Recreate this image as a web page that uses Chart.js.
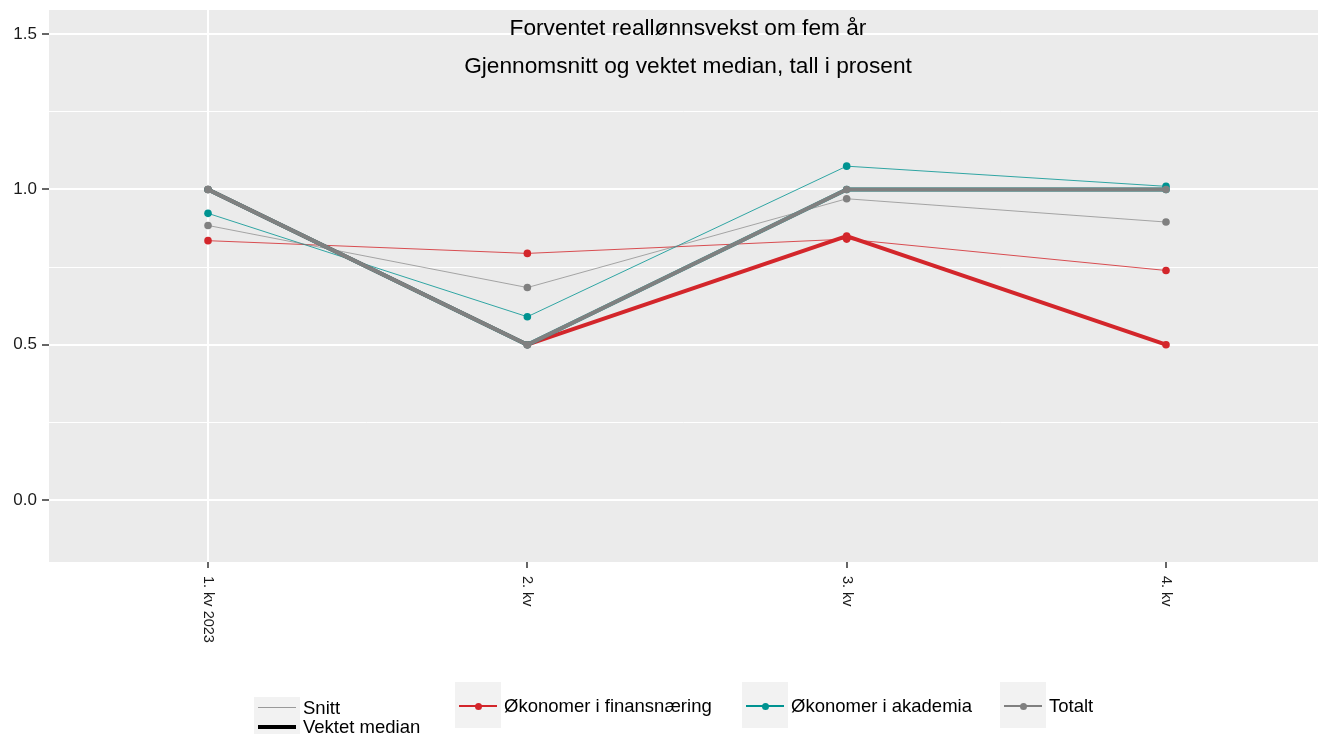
<!DOCTYPE html>
<html>
<head>
<meta charset="utf-8">
<script src="https://cdn.jsdelivr.net/npm/chart.js@4.4.1/dist/chart.umd.min.js"></script>
<style>
body { margin: 0; background: #fff; font-family: "Liberation Sans", Arial, sans-serif; }
#wrap { position: relative; width: 1318px; height: 734px; overflow: hidden; }
.key { position: absolute; background: #f2f2f2; }
.bar { position: absolute; }
.dot { position: absolute; width: 7px; height: 7px; border-radius: 50%; }
.lbl { position: absolute; font-size: 18.5px; line-height: 20px; color: #000; white-space: nowrap; }
</style>
</head>
<body>
<div id="wrap">
  <canvas id="chart" width="1318" height="734"></canvas>
  <div id="legend"></div>
</div>
<script>
// categories and values
const categories = ['1. kv 2023', '2. kv', '3. kv', '4. kv'];
const finansSnitt = [0.835, 0.794, 0.84, 0.739];
const finansMedian = [1.0, 0.5, 0.85, 0.5];
const akademiaSnitt = [0.923, 0.59, 1.075, 1.01];
const akademiaMedian = [1.0, 0.5, 1.0, 1.0];
const totaltSnitt = [0.884, 0.684, 0.97, 0.895];
const totaltMedian = [1.0, 0.5, 1.0, 1.0];
const yTicks = [0, 0.25, 0.5, 0.75, 1.0, 1.25, 1.5];
const titleLines = ['Forventet reallønnsvekst om fem år', 'Gjennomsnitt og vektet median, tall i prosent'];

const RED = '#d3262b';
const TEAL = '#009391';
const GREY = '#808080';
const FONT = '"Liberation Sans", Arial, sans-serif';

const isMajor = v => Math.abs(v * 2 - Math.round(v * 2)) < 1e-6;
const pts = arr => arr.map((v, i) => ({ x: i, y: v }));

function series(values, color, width, order, alpha) {
    return {
        data: pts(values),
        borderColor: alpha ? color + alpha : color,
        borderWidth: width,
        pointRadius: 3.8,
        pointBorderWidth: 0,
        pointBackgroundColor: color,
        pointHoverRadius: 3.8,
        tension: 0,
        order: order
    };
}

const panelBg = {
    id: 'panelBg',
    beforeDraw(chart) {
        const a = chart.chartArea, c = chart.ctx;
        c.save();
        c.fillStyle = '#ebebeb';
        c.fillRect(a.left, a.top, a.right - a.left, a.bottom - a.top);
        c.restore();
    }
};

const texts = {
    id: 'texts',
    afterDraw(chart) {
        const c = chart.ctx, xs = chart.scales.x;
        c.save();
        c.fillStyle = '#000';
        c.font = '22.7px ' + FONT;
        c.textAlign = 'center';
        c.textBaseline = 'middle';
        c.fillText(titleLines[0], 688, 29);
        c.fillText(titleLines[1], 688, 67);
        // x labels, rotated to read downwards
        c.font = '14.5px ' + FONT;
        c.fillStyle = '#1a1a1a';
        c.textAlign = 'left';
        categories.forEach((lab, i) => {
            c.save();
            c.translate(xs.getPixelForValue(i), 576);
            c.rotate(Math.PI / 2);
            c.fillText(lab, 0, 0);
            c.restore();
        });
        c.restore();
    }
};

new Chart(document.getElementById('chart'), {
    type: 'line',
    data: {
        datasets: [
            series(totaltMedian, GREY, 4, 0),
            series(akademiaMedian, TEAL, 4, 1),
            series(finansMedian, RED, 4, 2),
            series(totaltSnitt, GREY, 1, 3, 'aa'),
            series(akademiaSnitt, TEAL, 1, 4, 'cc'),
            series(finansSnitt, RED, 1, 5, 'cc')
        ]
    },
    options: {
        responsive: false,
        animation: false,
        devicePixelRatio: 1,
        layout: { autoPadding: false, padding: { top: 10, right: 0, left: 0, bottom: 0 } },
        plugins: { legend: { display: false }, tooltip: { enabled: false }, title: { display: false } },
        scales: {
            x: {
                type: 'linear',
                min: -0.498,
                max: 3.476,
                afterBuildTicks: s => { s.ticks = categories.map((c, i) => ({ value: i })); },
                afterFit: s => { s.height = 172; s.paddingLeft = 0; s.paddingRight = 0; },
                border: { display: false },
                grid: {
                    color: ctx => (ctx.tick && ctx.tick.value === 0) ? '#ffffff' : 'rgba(0,0,0,0)',
                    lineWidth: 2,
                    tickColor: '#333333',
                    tickWidth: 1.5,
                    tickLength: 6
                },
                ticks: { callback: () => '', font: { size: 14 } }
            },
            y: {
                min: -0.2,
                max: 1.578,
                afterBuildTicks: s => { s.ticks = yTicks.map(v => ({ value: v })); },
                afterFit: s => { s.width = 49; s.paddingTop = 0; s.paddingBottom = 0; },
                border: { display: false },
                grid: {
                    color: '#ffffff',
                    lineWidth: ctx => (ctx.tick && isMajor(ctx.tick.value)) ? 2 : 1,
                    tickColor: ctx => (ctx.tick && isMajor(ctx.tick.value)) ? '#333333' : 'rgba(0,0,0,0)',
                    tickWidth: 1.5,
                    tickLength: 7
                },
                ticks: {
                    callback: v => isMajor(v) ? v.toFixed(1) : '',
                    font: { size: 17, family: FONT },
                    color: '#1a1a1a',
                    padding: 5
                }
            }
        }
    },
    plugins: [panelBg, texts]
});

// legend built as html
const legendItems = [
    { box: [455, 682], color: RED, label: 'Økonomer i finansnæring' },
    { box: [742, 682], color: TEAL, label: 'Økonomer i akademia' },
    { box: [1000, 682], color: GREY, label: 'Totalt' }
];
let html = '';
html += '<div class="key" style="left:254px;top:697px;width:46px;height:37px"></div>';
html += '<div class="bar" style="left:258px;top:707px;width:38px;height:1px;background:#9a9a9a"></div>';
html += '<div class="bar" style="left:258px;top:725px;width:38px;height:4px;background:#000"></div>';
html += '<div class="lbl" style="left:303px;top:698px">Snitt</div>';
html += '<div class="lbl" style="left:303px;top:717px">Vektet median</div>';
legendItems.forEach(it => {
    const [l, t] = it.box;
    html += `<div class="key" style="left:${l}px;top:${t}px;width:46px;height:46px"></div>`;
    html += `<div class="bar" style="left:${l + 4}px;top:${t + 23}px;width:38px;height:2px;background:${it.color}"></div>`;
    html += `<div class="dot" style="left:${l + 20}px;top:${t + 20.5}px;background:${it.color}"></div>`;
    html += `<div class="lbl" style="left:${l + 49}px;top:${t + 14}px">${it.label}</div>`;
});
document.getElementById('legend').innerHTML = html;
</script>
</body>
</html>
